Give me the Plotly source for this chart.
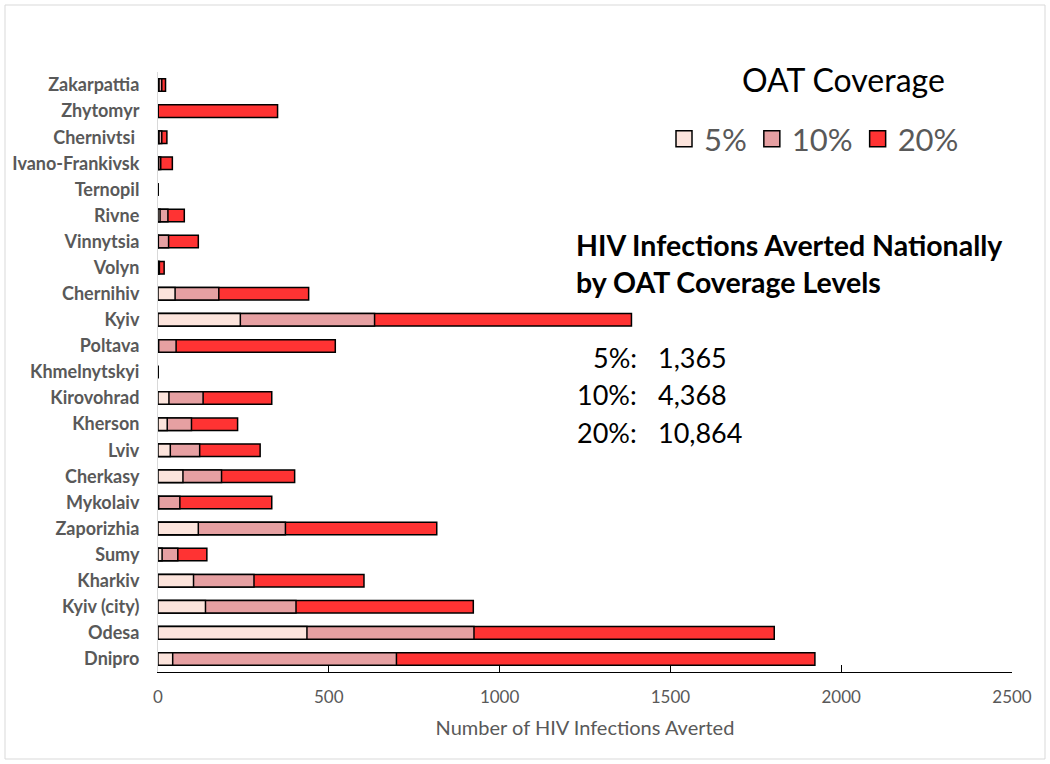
import plotly.graph_objects as go

# Data (each coverage level drawn from 0, overlapping)
regions = ["Zakarpattia", "Zhytomyr", "Chernivtsi ", "Ivano-Frankivsk", "Ternopil",
           "Rivne", "Vinnytsia", "Volyn", "Chernihiv", "Kyiv", "Poltava",
           "Khmelnytskyi", "Kirovohrad", "Kherson", "Lviv", "Cherkasy", "Mykolaiv",
           "Zaporizhia", "Sumy", "Kharkiv", "Kyiv (city)", "Odesa", "Dnipro"]
cov5 = [3, 0, 3, 2, 0, 6, 1, 1, 50, 241, 2, 0, 32, 27, 36, 73, 2, 118, 12, 104, 139, 436, 43]
cov10 = [11, 0, 11, 8, 0, 29, 31, 4, 178, 634, 53, 0, 132, 98, 122, 186, 64, 373, 58, 281, 404, 925, 698]
cov20 = [22, 350, 26, 42, 0, 77, 118, 18, 441, 1386, 519, 0, 333, 233, 299, 400, 333, 816, 143, 603, 923, 1804, 1923]

levels = ["5%", "10%", "20%"]
colors = {"5%": "#FCE4DC", "10%": "#E6A0A2", "20%": "#FF3333"}
series = {"5%": cov5, "10%": cov10, "20%": cov20}

national_labels = ["5%:", "10%:", "20%:"]
national_values = ["1,365", "4,368", "10,864"]

FONT = "Lato"
GRAY = "#595959"

L, T, PW, PH = 158, 72, 854, 600


def px(xp):
    return (xp - L) / PW


def py(yp):
    return 1 - (yp - T) / PH


fig = go.Figure()

# draw largest first so smaller levels sit on top (100% overlap)
for lv in ["20%", "10%", "5%"]:
    fig.add_trace(go.Bar(
        y=regions, x=series[lv], orientation="h", name=lv,
        marker=dict(color=colors[lv], line=dict(color="black", width=1.5)),
        showlegend=False, hoverinfo="x+y+name"))

# legend swatches
for lv in levels:
    fig.add_trace(go.Scatter(
        x=[None], y=[None], mode="markers", name=lv,
        marker=dict(symbol="square", size=16, color=colors[lv],
                    line=dict(color="black", width=1.5)),
        showlegend=True))

fig.update_layout(
    width=1050, height=764,
    margin=dict(l=L, r=1050 - L - PW, t=T, b=764 - T - PH),
    barmode="overlay", bargap=0.52,
    plot_bgcolor="white", paper_bgcolor="white",
    font=dict(family=FONT, color=GRAY),
    legend=dict(orientation="h", x=px(664), y=py(139), xanchor="left", yanchor="middle",
                font=dict(size=31, color=GRAY, family=FONT), itemsizing="trace",
                bgcolor="rgba(0,0,0,0)", itemwidth=30, tracegroupgap=0),
    xaxis=dict(range=[0, 2500], dtick=500, showgrid=False, zeroline=False,
               showline=True, linecolor="black", linewidth=1,
               ticks="inside", ticklen=7, tickcolor="black", tickwidth=1,
               tickfont=dict(size=17, color=GRAY, family=FONT),
               ticklabelstandoff=10,
               title=dict(text="Number of HIV Infections Averted",
                          font=dict(size=20, color=GRAY, family=FONT), standoff=14)),
    yaxis=dict(autorange="reversed", showgrid=False, zeroline=False,
               showline=True, linecolor="#D9D9D9", linewidth=1, ticks="",
               tickfont=dict(size=18, color=GRAY, family=FONT, weight="bold"),
               ticklabelstandoff=14),
)

# chart border
fig.add_shape(type="rect", xref="paper", yref="paper",
              x0=px(5), x1=px(1045), y0=py(759), y1=py(5),
              line=dict(color="#D9D9D9", width=1), fillcolor="rgba(0,0,0,0)", layer="below")

# legend title
fig.add_annotation(text="OAT Coverage", xref="paper", yref="paper",
                   x=px(843), y=py(79), xanchor="center", yanchor="middle", showarrow=False,
                   font=dict(size=32, color="black", family=FONT))

# title block
fig.add_annotation(text="<b>HIV Infections Averted Nationally</b>", xref="paper", yref="paper",
                   x=px(574), y=py(245), xanchor="left", yanchor="middle",
                   showarrow=False, font=dict(size=28.5, color="black", family=FONT))
fig.add_annotation(text="<b>by OAT Coverage Levels</b>", xref="paper", yref="paper",
                   x=px(574), y=py(282), xanchor="left", yanchor="middle",
                   showarrow=False, font=dict(size=28.5, color="black", family=FONT))

ys = [357, 394, 432]
for lab, val, yy in zip(national_labels, national_values, ys):
    fig.add_annotation(text=lab, xref="paper", yref="paper",
                       x=px(639), y=py(yy), xanchor="right", yanchor="middle",
                       showarrow=False, font=dict(size=27, color="black", family=FONT))
    fig.add_annotation(text=val, xref="paper", yref="paper",
                       x=px(656), y=py(yy), xanchor="left", yanchor="middle",
                       showarrow=False, font=dict(size=27, color="black", family=FONT))

# remove the default 8px page margin so the figure sits at the window's top-left corner
fig.write_html("out.html", config={"displayModeBar": False},
               post_script="document.body.style.margin='0px';")
